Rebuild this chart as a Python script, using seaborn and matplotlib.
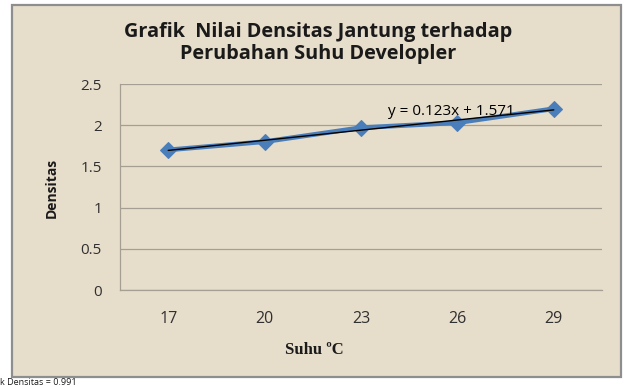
import matplotlib
matplotlib.use("Agg")
import matplotlib.pyplot as plt
import seaborn as sns
import pandas as pd
from matplotlib.patches import Rectangle

# data
suhu_labels = ["17", "20", "23", "26", "29"]
suhu_pos = [1, 2, 3, 4, 5]
densitas = [1.70, 1.80, 1.97, 2.03, 2.20]
y_ticks = [0, 0.5, 1, 1.5, 2, 2.5]
y_labels = ["0", "0.5", "1", "1.5", "2", "2.5"]

df = pd.DataFrame({"pos": suhu_pos, "densitas": densitas})

sns.set_theme(style="white")
plt.rcParams["font.family"] = ["Open Sans", "DejaVu Sans"]

bg = "#E7DDCB"
blue = "#4A7EBB"
grid = "#A59E92"
W, H = 630, 387

fig = plt.figure(figsize=(6.3, 3.87), dpi=100)
fig.patch.set_facecolor("white")

# chart frame, behind the axes
fig.patches.append(Rectangle((12 / W, 1 - 377 / H), 609 / W, 372 / H,
                             transform=fig.transFigure, facecolor=bg,
                             edgecolor="#8E8E8E", linewidth=1.6, zorder=-5))

ax = fig.add_axes([120 / W, 1 - 290 / H, 482 / W, 206 / H])
ax.set_facecolor(bg)

sns.lineplot(data=df, x="pos", y="densitas", ax=ax, color=blue, linewidth=3.4,
             marker="D", markersize=8, markeredgecolor=blue, zorder=3)
sns.regplot(data=df, x="pos", y="densitas", ax=ax, scatter=False, ci=None,
            truncate=True, line_kws={"color": "black", "linewidth": 1.0, "zorder": 4})

ax.set_xlim(0.5, 5.5)
ax.set_ylim(0, 2.5)
ax.set_xticks(suhu_pos)
ax.set_xticklabels(suhu_labels)
ax.set_yticks(y_ticks)
ax.set_yticklabels(y_labels)
ax.yaxis.grid(True, color=grid, linewidth=0.9)
ax.set_axisbelow(True)
for s in ["top", "right"]:
    ax.spines[s].set_visible(False)
for s in ["left", "bottom"]:
    ax.spines[s].set_color(grid)
    ax.spines[s].set_linewidth(0.9)
ax.tick_params(axis="x", length=0, pad=15, labelsize=11.5, labelcolor="#303030")
ax.tick_params(axis="y", length=0, pad=13, labelsize=11, labelcolor="#303030")
ax.set_xlabel("")
ax.set_ylabel("")

ax.text(0.555, 0.865, "y = 0.123x + 1.571", transform=ax.transAxes,
        fontsize=11, color="black", va="center", zorder=5)

fig.text(318 / W, 1 - 43 / H, "Grafik  Nilai Densitas Jantung terhadap\nPerubahan Suhu Developler",
         ha="center", va="center", fontsize=14.3, fontweight="bold",
         color="#1a1a1a", linespacing=1.2)
fig.text(52 / W, 1 - 188 / H, "Densitas", rotation=90, ha="center",
         va="center", fontsize=10, fontweight="bold", color="#1a1a1a")
fig.text(314 / W, 1 - 350 / H, "Suhu \u00baC", ha="center", va="center",
         fontsize=12, fontweight="bold", family="Liberation Serif",
         color="#1a1a1a")
fig.text(0.0, 1 - 378 / H, "k Densitas = 0.991", ha="left", va="top",
         fontsize=6.5, color="#1a1a1a")

fig.savefig("out.png", dpi=100, facecolor=fig.get_facecolor())
